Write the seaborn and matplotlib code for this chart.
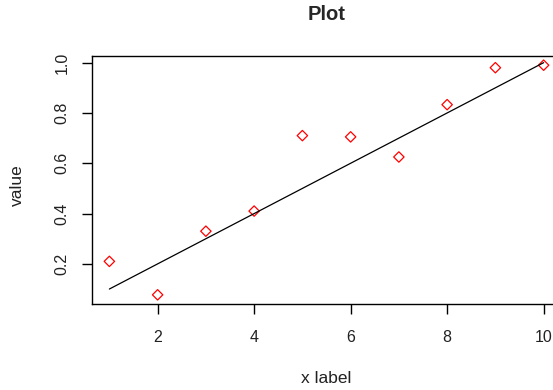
import numpy as np
import matplotlib
matplotlib.use("Agg")
import matplotlib.pyplot as plt
import seaborn as sns

# data
x_vals = [1, 2, 3, 4, 5, 6, 7, 8, 9, 10]
y_vals = [0.21, 0.077, 0.33, 0.41, 0.71, 0.705, 0.625, 0.833, 0.98, 0.99]
line_y = [0.1, 0.2, 0.3, 0.4, 0.5, 0.6, 0.7, 0.8, 0.9, 1.0]
x_ticks = [2, 4, 6, 8, 10]
y_ticks = [0.2, 0.4, 0.6, 0.8, 1.0]

sns.set_style("white")
plt.rcParams['font.family'] = ['Liberation Sans', 'DejaVu Sans']

fig = plt.figure(figsize=(5.53, 3.9), dpi=100)
ax = fig.add_axes([92 / 553, 1 - 304 / 390, 469 / 553, 248 / 390])

sns.lineplot(x=x_vals, y=line_y, ax=ax, color="black", linewidth=0.9)
sns.scatterplot(x=x_vals, y=y_vals, ax=ax, marker="D", s=28,
                facecolor="none", edgecolor="red", linewidth=0.9)

ax.set_xlim(0.64, 10.36)
ax.set_ylim(0.0405, 1.0265)
ax.set_xticks(x_ticks)
ax.set_yticks(y_ticks)
ax.set_xticklabels([str(t) for t in x_ticks])
ax.set_yticklabels([f"{t:.1f}" for t in y_ticks], rotation=90, va="center")
ax.tick_params(direction="out", length=7, width=1, color="black",
               labelsize=11.5, labelcolor="#222222", bottom=True, left=True)
ax.tick_params(axis="x", pad=12)
ax.tick_params(axis="y", pad=9)
for sp in ax.spines.values():
    sp.set_color("black")
    sp.set_linewidth(1)

ax.set_xlabel("x label", fontsize=12.5, color="#222222", va="center")
ax.xaxis.set_label_coords(0.5, -0.302)
ax.set_ylabel("value", fontsize=12.5, color="#222222", va="center")
ax.yaxis.set_label_coords(-0.16, 0.48)
ax.set_title("Plot", fontsize=14.5, fontweight="bold", y=1.145, pad=0)

fig.savefig("out.png", dpi=100)
